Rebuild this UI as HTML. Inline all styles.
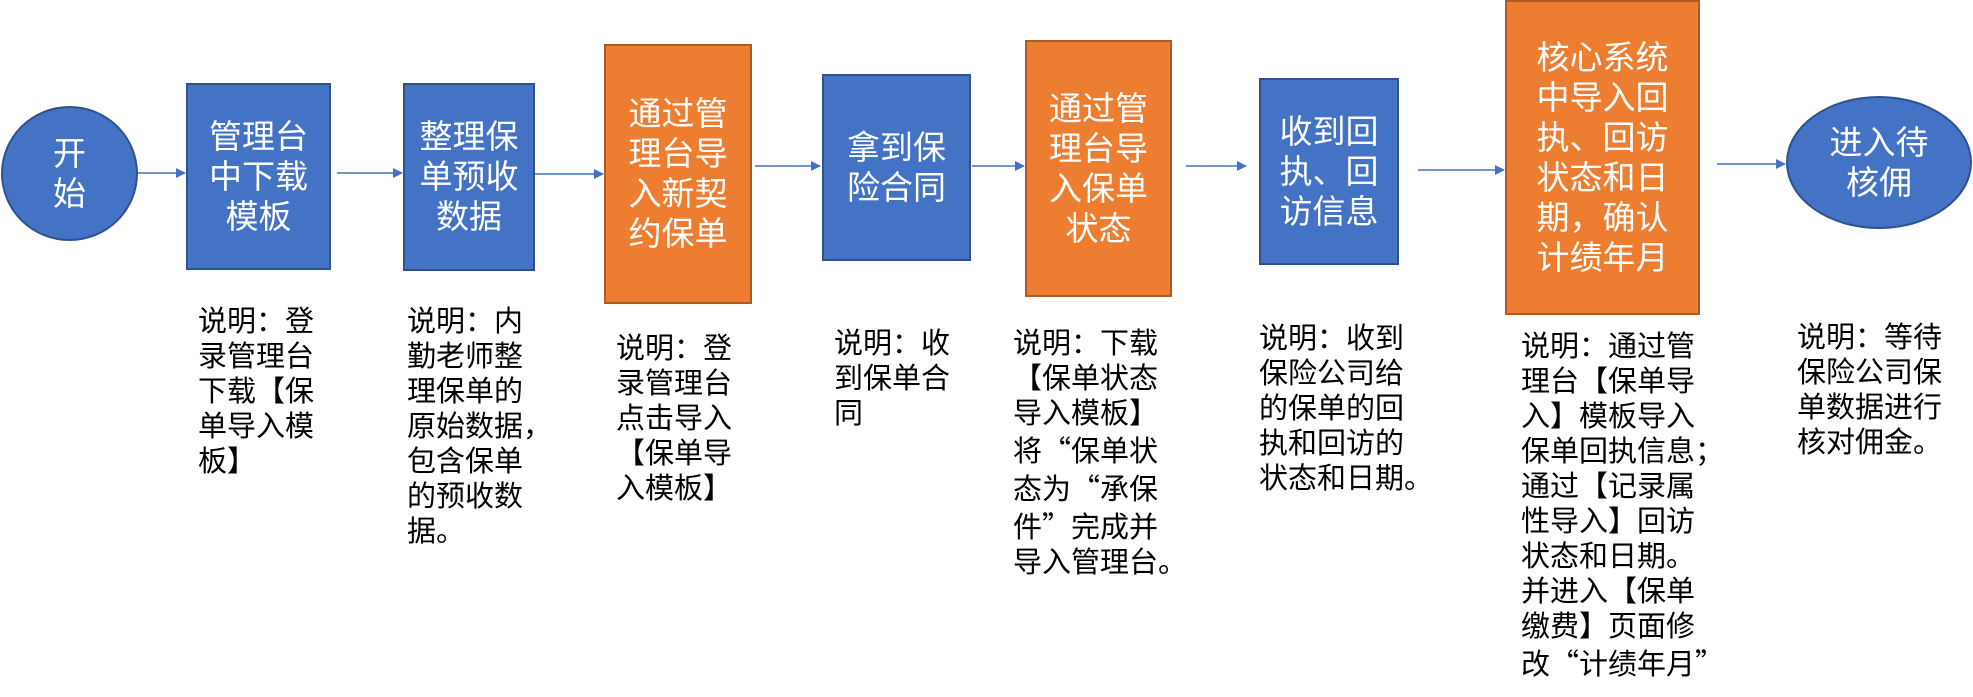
<!DOCTYPE html>
<html><head><meta charset="utf-8"><style>
body{margin:0;width:1973px;height:697px;background:#fff;position:relative;overflow:hidden;font-family:"Liberation Sans","Noto Sans CJK SC",sans-serif}
.n{position:absolute;display:flex;align-items:center;justify-content:center;text-align:center;color:#fff;font-size:33px;line-height:40px;box-sizing:border-box}
.b{background:#4472C4;border:2px solid #2F528F}
.o{background:#ED7D31;border:2px solid #AE5A21}
.e{border-radius:50%}
.d{position:absolute;font-size:29px;line-height:35px;color:#000;white-space:nowrap}
.q{font-family:"Noto Sans CJK SC",sans-serif}
svg{position:absolute;left:0;top:0}
</style></head><body>
<svg width="1973" height="697">
<defs><marker id="a" markerWidth="10" markerHeight="10" refX="9" refY="5" orient="auto" markerUnits="userSpaceOnUse"><path d="M0,0 L10,5 L0,10z" fill="#4472C4"/></marker></defs>
<g stroke="#4472C4" stroke-width="1.5" marker-end="url(#a)">
<line x1="138" y1="173" x2="185" y2="173"/>
<line x1="337" y1="173" x2="402" y2="173"/>
<line x1="535" y1="174" x2="603" y2="174"/>
<line x1="755" y1="166" x2="820" y2="166"/>
<line x1="972" y1="166" x2="1024" y2="166"/>
<line x1="1186" y1="166" x2="1246" y2="166"/>
<line x1="1418" y1="170" x2="1504" y2="170"/>
<line x1="1717" y1="164" x2="1785" y2="164"/>
</g></svg>
<div class="n b e" style="left:1px;top:106px;width:137px;height:135px">开<br>始</div>
<div class="n b" style="left:186px;top:83px;width:145px;height:187px">管理台<br>中下载<br>模板</div>
<div class="n b" style="left:403px;top:83px;width:132px;height:188px">整理保<br>单预收<br>数据</div>
<div class="n o" style="left:604px;top:44px;width:148px;height:260px">通过管<br>理台导<br>入新契<br>约保单</div>
<div class="n b" style="left:822px;top:74px;width:149px;height:187px">拿到保<br>险合同</div>
<div class="n o" style="left:1025px;top:40px;width:147px;height:257px">通过管<br>理台导<br>入保单<br>状态</div>
<div class="n b" style="left:1259px;top:78px;width:140px;height:187px">收到回<br>执、回<br>访信息</div>
<div class="n o" style="left:1505px;top:0px;width:195px;height:315px">核心系统<br>中导入回<br>执、回访<br>状态和日<br>期，确认<br>计绩年月</div>
<div class="n b e" style="left:1786px;top:96px;width:186px;height:133px">进入待<br>核佣</div>
<div class="d" style="left:198px;top:305px">说明：登<br>录管理台<br>下载【保<br>单导入模<br>板】</div>
<div class="d" style="left:407px;top:305px">说明：内<br>勤老师整<br>理保单的<br>原始数据，<br>包含保单<br>的预收数<br>据。</div>
<div class="d" style="left:616px;top:332px">说明：登<br>录管理台<br>点击导入<br>【保单导<br>入模板】</div>
<div class="d" style="left:834px;top:327px">说明：收<br>到保单合<br>同</div>
<div class="d" style="left:1013px;top:327px">说明：下载<br>【保单状态<br>导入模板】<br>将<span class="q">“</span>保单状<br>态为<span class="q">“</span>承保<br>件<span class="q">”</span>完成并<br>导入管理台。</div>
<div class="d" style="left:1259px;top:322px">说明：收到<br>保险公司给<br>的保单的回<br>执和回访的<br>状态和日期。</div>
<div class="d" style="left:1521px;top:330px">说明：通过管<br>理台【保单导<br>入】模板导入<br>保单回执信息；<br>通过【记录属<br>性导入】回访<br>状态和日期。<br>并进入【保单<br>缴费】页面修<br>改<span class="q">“</span>计绩年月<span class="q">”</span></div>
<div class="d" style="left:1797px;top:321px">说明：等待<br>保险公司保<br>单数据进行<br>核对佣金。</div>
</body></html>
